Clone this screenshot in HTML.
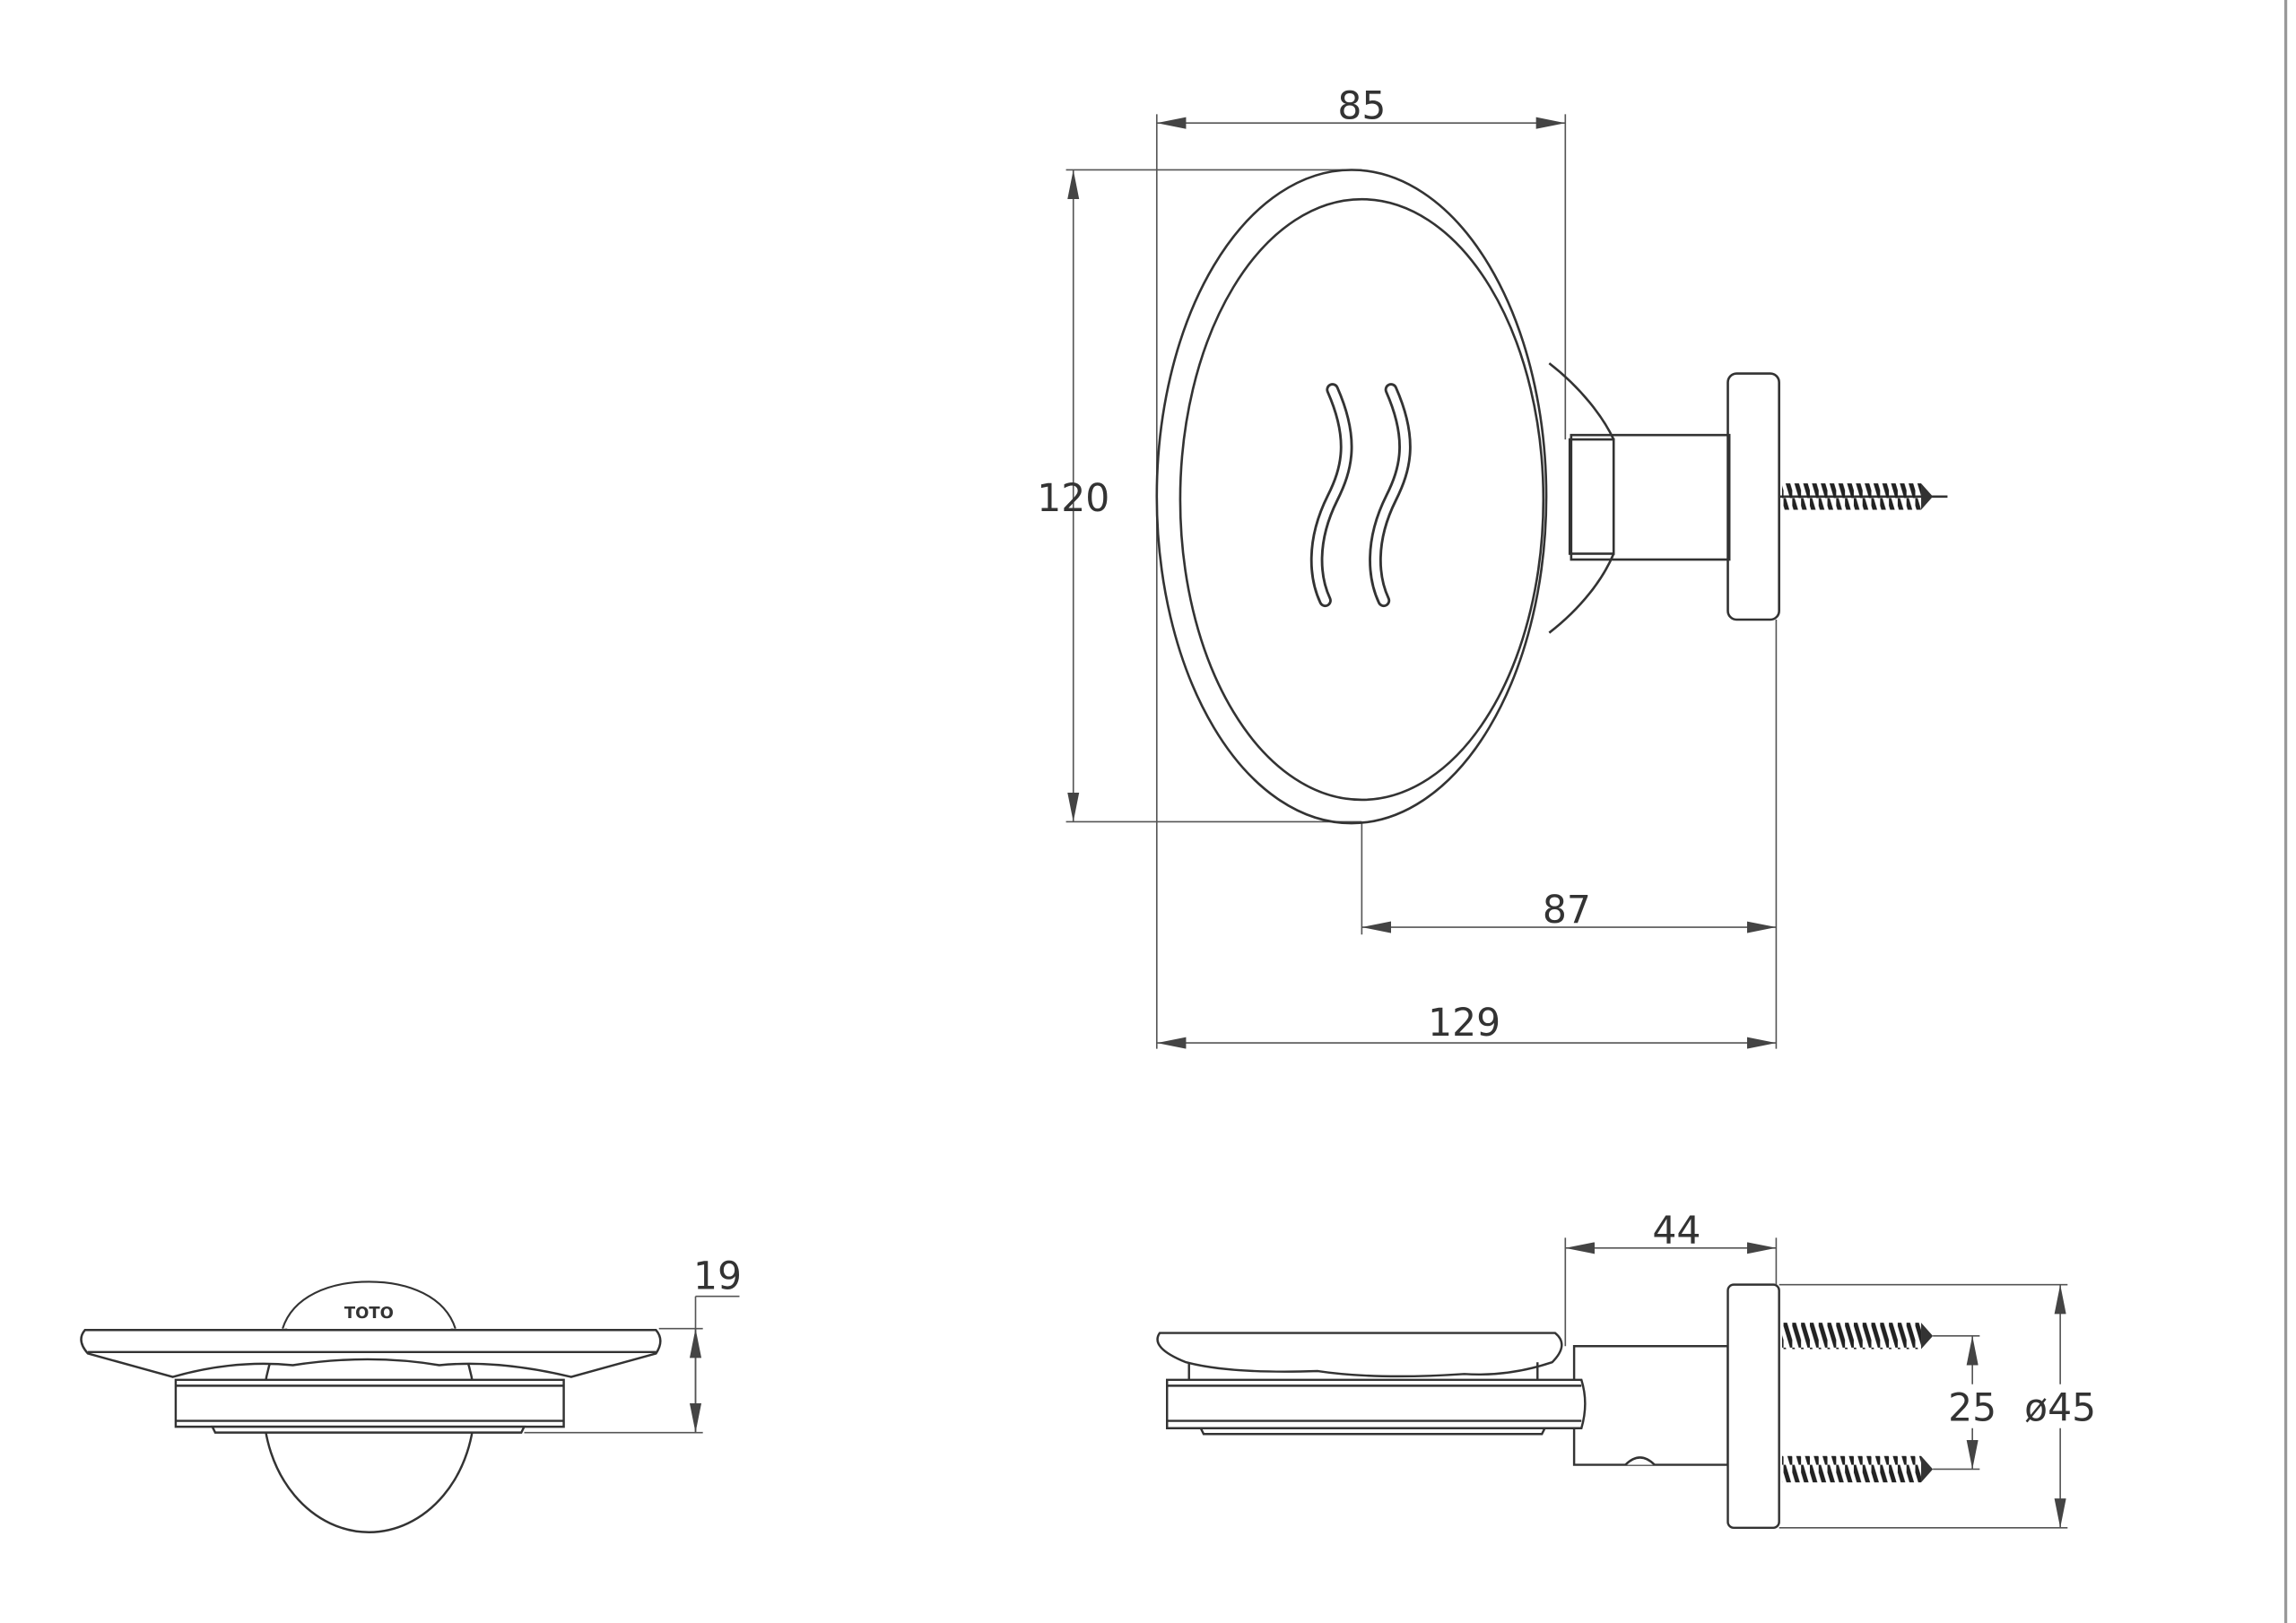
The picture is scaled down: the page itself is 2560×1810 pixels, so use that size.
<!DOCTYPE html>
<html><head><meta charset="utf-8"><style>
html,body{margin:0;padding:0;background:#fff;}
svg{display:block;}
text{font-family:"DejaVu Sans","Liberation Sans",sans-serif;fill:#333;}
</style></head><body>
<svg width="2560" height="1810" viewBox="0 0 1568 1108" preserveAspectRatio="none" xmlns="http://www.w3.org/2000/svg">
<defs>
<marker id="a" viewBox="0 0 20 8" refX="20" refY="4" markerWidth="20" markerHeight="8" markerUnits="userSpaceOnUse" orient="auto-start-reverse"><path d="M0,0 L20,4 L0,8 Z" fill="#444"/></marker>
<pattern id="thr" width="6" height="20" patternUnits="userSpaceOnUse"><path d="M0,0 L6,20" stroke="#222" stroke-width="3"/></pattern>
</defs>
<rect width="1568" height="1108" fill="#fff"/>
<line x1="1561" y1="0" x2="1561" y2="1108" stroke="#999" stroke-width="2"/>
<g fill="none" stroke="#555" stroke-width="1">
<line x1="790" y1="78" x2="790" y2="716"/>
<line x1="1069" y1="78" x2="1069" y2="300"/>
<line x1="790" y1="84" x2="1069" y2="84" marker-start="url(#a)" marker-end="url(#a)"/>
<line x1="728" y1="116" x2="930" y2="116"/>
<line x1="728" y1="561" x2="930" y2="561"/>
<line x1="733" y1="116" x2="733" y2="561" marker-start="url(#a)" marker-end="url(#a)"/>
<line x1="930" y1="561" x2="930" y2="638"/>
<line x1="1213" y1="423" x2="1213" y2="716"/>
<line x1="930" y1="633" x2="1213" y2="633" marker-start="url(#a)" marker-end="url(#a)"/>
<line x1="790" y1="712" x2="1213" y2="712" marker-start="url(#a)" marker-end="url(#a)"/>
</g>
<g fill="none" stroke="#333" stroke-width="1.6">
<ellipse cx="923" cy="339" rx="133" ry="223"/>
<ellipse cx="930" cy="341" rx="124" ry="205"/>
<path d="M910,266 C925,300 920,320 910,340 C895,370 898,395 905,410" stroke-width="9" stroke="#333" stroke-linecap="round"/>
<path d="M910,266 C925,300 920,320 910,340 C895,370 898,395 905,410" stroke-width="5.5" stroke="#fff" stroke-linecap="round"/>
<path d="M950,266 C965,300 960,320 950,340 C935,370 938,395 945,410" stroke-width="9" stroke="#333" stroke-linecap="round"/>
<path d="M950,266 C965,300 960,320 950,340 C935,370 938,395 945,410" stroke-width="5.5" stroke="#fff" stroke-linecap="round"/>
<path d="M1058,248 C1080,265 1095,285 1102,300 M1058,432 C1080,415 1095,395 1102,378"/>
<rect x="1072" y="300" width="30" height="78"/>
<rect x="1073" y="297" width="108" height="85"/>
<rect x="1180" y="255" width="35" height="168" rx="6"/>
<line x1="1215" y1="339" x2="1330" y2="339"/>
</g>
<rect x="1217" y="330" width="95" height="18" fill="url(#thr)"/>
<path d="M1312,330 L1320,339 L1312,348Z" fill="#333"/>
<text x="930" y="81" font-size="26" text-anchor="middle">85</text>
<text x="733" y="349" font-size="26" text-anchor="middle">120</text>
<text x="1070" y="630" font-size="26" text-anchor="middle">87</text>
<text x="1000" y="707" font-size="26" text-anchor="middle">129</text>

<g fill="#fff" stroke="#333" stroke-width="1.5">
<ellipse cx="252" cy="960" rx="72" ry="86"/>
<path d="M120,942 L385,942 L385,974 L120,974 Z"/>
<path d="M145,974 L358,974 L356,978 L147,978 Z"/>
<path d="M58,908 L448,908 Q454,915 448,924 L390,940 Q340,928 300,932 Q252,924 200,932 Q160,928 118,940 L60,924 Q52,915 58,908 Z"/>
<line x1="120" y1="946" x2="385" y2="946"/>
<line x1="120" y1="970" x2="385" y2="970"/>
<line x1="60" y1="923" x2="448" y2="923"/>
</g>
<rect x="185" y="870" width="134" height="37" fill="#fff"/>
<path d="M193,907 C200,885 225,875 252,875 C279,875 304,885 311,907" fill="none" stroke="#333" stroke-width="1.3"/>
<text x="252" y="900" font-size="11" font-weight="bold" text-anchor="middle" font-family="Liberation Serif">TOTO</text>
<g fill="none" stroke="#555" stroke-width="1">
<line x1="450" y1="907" x2="480" y2="907"/>
<line x1="358" y1="978" x2="480" y2="978"/>
<line x1="475" y1="885" x2="475" y2="978"/>
<line x1="475" y1="885" x2="505" y2="885"/>
<line x1="475" y1="907" x2="475" y2="978" marker-start="url(#a)" marker-end="url(#a)"/>
</g>
<text x="490" y="880" font-size="26" text-anchor="middle">19</text>

<g fill="#fff" stroke="#333" stroke-width="1.5">
<path d="M1075,919 L1180,919 L1180,1000 L1075,1000 Z"/>
<path d="M1110,1000 Q1120,990 1130,1000" />
<path d="M797,942 L1080,942 Q1085,958 1080,975 L797,975 Z"/>
<line x1="797" y1="946" x2="1080" y2="946"/>
<line x1="797" y1="970" x2="1080" y2="970"/>
<path d="M820,975 L1055,975 L1053,979 L822,979 Z"/>
<path d="M792,910 L1062,910 Q1072,918 1060,930 Q1030,940 1000,938 Q940,942 900,936 Q840,938 810,930 Q785,920 792,910 Z"/>
<line x1="812" y1="930" x2="812" y2="942"/>
<line x1="1050" y1="930" x2="1050" y2="942"/>
<rect x="1180" y="877" width="35" height="166" rx="4"/>
</g>
<rect x="1217" y="903" width="95" height="18" fill="url(#thr)"/>
<path d="M1312,903 L1320,912 L1312,921Z" fill="#333"/>
<rect x="1217" y="994" width="95" height="18" fill="url(#thr)"/>
<path d="M1312,994 L1320,1003 L1312,1012Z" fill="#333"/>
<g fill="none" stroke="#555" stroke-width="1">
<line x1="1069" y1="845" x2="1069" y2="919"/>
<line x1="1213" y1="845" x2="1213" y2="877"/>
<line x1="1069" y1="852" x2="1213" y2="852" marker-start="url(#a)" marker-end="url(#a)"/>
<line x1="1320" y1="912" x2="1352" y2="912"/>
<line x1="1320" y1="1003" x2="1352" y2="1003"/>
<line x1="1347" y1="912" x2="1347" y2="1003" marker-start="url(#a)" marker-end="url(#a)"/>
<line x1="1215" y1="877" x2="1412" y2="877"/>
<line x1="1215" y1="1043" x2="1412" y2="1043"/>
<line x1="1407" y1="877" x2="1407" y2="1043" marker-start="url(#a)" marker-end="url(#a)"/>
</g>
<rect x="1330" y="945" width="34" height="30" fill="#fff"/>
<rect x="1382" y="945" width="52" height="30" fill="#fff"/>
<text x="1145" y="849" font-size="26" text-anchor="middle">44</text>
<text x="1347" y="970" font-size="26" text-anchor="middle">25</text>
<text x="1407" y="970" font-size="26" text-anchor="middle">ø45</text>
</svg>
</body></html>
